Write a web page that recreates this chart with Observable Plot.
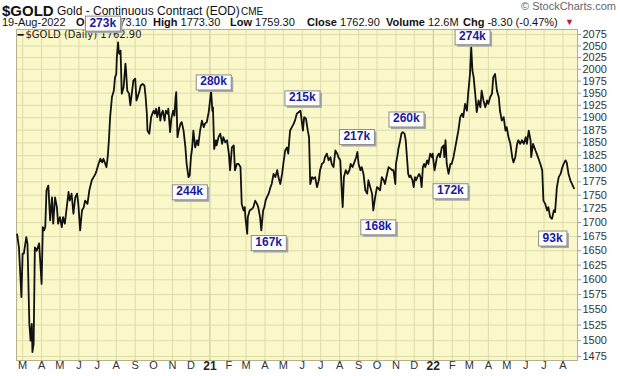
<!DOCTYPE html>
<html>
<head>
<meta charset="utf-8">
<script src="https://cdn.jsdelivr.net/npm/d3@7"></script>
<script src="https://cdn.jsdelivr.net/npm/@observablehq/plot@0.6"></script>
<style>
body{margin:0;background:#fff;}
#wrap{position:relative;width:620px;height:376px;overflow:hidden;font-family:"Liberation Sans",Arial,sans-serif;color:#111;}
#head{position:absolute;left:0;top:0;width:620px;height:29px;}
#head span{position:absolute;white-space:nowrap;}
#head b{font-size:11px;}
#chart{position:absolute;left:0;top:29px;}
</style>
</head>
<body>
<div id="wrap">
  <div id="head">
    <span style="left:2px;top:2px;font-weight:bold;font-size:15px;">$GOLD</span>
    <span style="left:57px;top:4px;font-size:12px;">Gold - Continuous Contract (EOD)</span>
    <span style="left:241px;top:6px;font-size:10px;">CME</span>
    <span style="left:521px;top:0px;font-size:11px;color:#666;">© StockCharts.com</span>
    <span style="left:2px;top:16px;font-size:11px;">19-Aug-2022</span>
    <span style="left:76px;top:16px;font-size:11px;"><b>Open</b> 1773.10</span>
    <span style="left:153px;top:16px;font-size:11px;"><b>High</b> 1773.30</span>
    <span style="left:230px;top:16px;font-size:11px;"><b>Low</b> 1759.30</span>
    <span style="left:307px;top:16px;font-size:11px;"><b>Close</b> 1762.90</span>
    <span style="left:386px;top:16px;font-size:11px;"><b>Volume</b> 12.6M</span>
    <span style="left:463px;top:16px;font-size:11px;"><b>Chg</b> -8.30 (-0.47%)</span>
    <span style="left:565px;top:17px;font-size:9px;color:#c0143c;">▼</span>
  </div>
  <div id="chart"></div>
</div>
<script>
// ---- data (daily closes) ----
const dates20 = ["02-21","02-24","02-28","03-01","03-03","03-07","03-09","03-12","03-14","03-16","03-17","03-19","03-21","03-24","03-28",
"04-01","04-03","04-05","04-07","04-09","04-12","04-15","04-18","04-20","04-23","04-26","04-28",
"05-01","05-04","05-06","05-09","05-15","05-17","05-20","05-23","05-26","05-29","05-31",
"06-03","06-06","06-09","06-11","06-15","06-18","06-22","06-25","06-28","06-30",
"07-03","07-06","07-09","07-11","07-16","07-18","07-20","07-22","07-25","07-28","07-30",
"08-01","08-02","08-04","08-05","08-06","08-08","08-10","08-13","08-16","08-17","08-19","08-22","08-24","08-27","08-29",
"09-01","09-03","09-05","09-08","09-10","09-13","09-16","09-18","09-20","09-21","09-24","09-27","09-29",
"10-01","10-03","10-05","10-07","10-10","10-12","10-14","10-16","10-19","10-21","10-24","10-25","10-28","10-30",
"11-02","11-04","11-06","11-07","11-09","11-11","11-14","11-16","11-19","11-22","11-24","11-27","11-29",
"12-01","12-03","12-05","12-08","12-11","12-13","12-16","12-19","12-22","12-24","12-27","12-30","12-31"];
const closes20 = [1679,1656,1571,1645,1645,1674,1662,1527,1500,1527,1482,1495,1656,1650,1663,
1593,1692,1686,1692,1759,1768,1704,1746,1698,1746,1728,1698,
1710,1692,1710,1698,1756,1740,1753,1716,1746,1753,1734,
1686,1722,1728,1740,1734,1759,1778,1784,1790,1797,
1809,1819,1812,1819,1803,1822,1855,1901,1942,1955,1983,
1990,2026,2058,2040,2033,2040,1949,1962,2012,1997,1955,1949,1925,1955,1976,
1980,1935,1942,1955,1966,1969,1966,1942,1908,1874,1868,1901,1908,
1914,1908,1918,1901,1921,1894,1908,1914,1894,1914,1908,1918,1871,1898,
1914,1904,1942,1952,1861,1874,1888,1891,1874,1841,1809,1784,1787,
1822,1839,1874,1841,1855,1845,1874,1894,1881,1888,1891,1911,1921];

const dates21 = ["01-03","01-05","01-06","01-08","01-11","01-12","01-15","01-18","01-21","01-23","01-26","01-29",
"02-01","02-03","02-06","02-09","02-11","02-14","02-17","02-20","02-22","02-25","02-27","02-28",
"03-03","03-04","03-07","03-11","03-13","03-16","03-19","03-21","03-24","03-26","03-29","03-31",
"04-02","04-04","04-07","04-10","04-12","04-15","04-18","04-21","04-23","04-26","04-29",
"05-01","05-04","05-07","05-09","05-12","05-15","05-18","05-20","05-23","05-26","05-29","05-31",
"06-02","06-04","06-07","06-10","06-12","06-14","06-17","06-19","06-22","06-25","06-28","06-30",
"07-03","07-06","07-08","07-11","07-14","07-17","07-19","07-22","07-25","07-28","07-30",
"08-02","08-05","08-06","08-08","08-11","08-14","08-17","08-19","08-22","08-25","08-28","08-30",
"09-01","09-04","09-06","09-09","09-12","09-15","09-17","09-20","09-23","09-25","09-28",
"10-01","10-04","10-06","10-09","10-12","10-14","10-17","10-20","10-23","10-26","10-28","10-31",
"11-01","11-04","11-05","11-08","11-10","11-12","11-15","11-17","11-19","11-21","11-23","11-25","11-28","11-30",
"12-02","12-04","12-06","12-09","12-11","12-13","12-15","12-17","12-19","12-22","12-24","12-27","12-30","12-31"];
const closes21 = [1955,1914,1921,1838,1855,1845,1861,1868,1848,1861,1851,1855,
1829,1797,1841,1845,1797,1809,1809,1803,1734,1722,1728,1710,
1680,1710,1722,1725,1728,1740,1734,1728,1710,1686,1722,1728,
1740,1746,1753,1765,1771,1790,1784,1797,1784,1771,1790,
1809,1835,1841,1829,1874,1881,1888,1894,1908,1911,1914,1894,
1874,1901,1898,1874,1861,1771,1784,1781,1784,1765,1778,1797,
1809,1812,1822,1829,1816,1822,1809,1803,1835,1829,1822,
1816,1746,1728,1784,1797,1790,1797,1809,1803,1812,1822,1832,
1809,1797,1803,1790,1759,1753,1778,1765,1753,1722,1746,
1765,1762,1759,1784,1778,1771,1787,1803,1800,1797,1797,1771,
1809,1829,1838,1855,1868,1871,1868,1855,1822,1790,1784,1787,1778,1765,
1784,1778,1784,1790,1784,1765,1803,1809,1803,1816,1809,1829,1822,1829];

const dates22 = ["01-03","01-05","01-07","01-10","01-12","01-15","01-18","01-19","01-21","01-23","01-26","01-29","01-31",
"02-03","02-06","02-09","02-11","02-14","02-17","02-19","02-22","02-25","02-27","02-28",
"03-02","03-04","03-06","03-08","03-11","03-13","03-16","03-19","03-21","03-24","03-27","03-30",
"04-01","04-04","04-07","04-09","04-12","04-15","04-18","04-20","04-23","04-26","04-29",
"05-01","05-04","05-07","05-10","05-12","05-15","05-18","05-20","05-23","05-26","05-29",
"06-01","06-03","06-06","06-09","06-10","06-13","06-17","06-19","06-22","06-25","06-28","06-30",
"07-03","07-06","07-08","07-11","07-14","07-17","07-19","07-22","07-25","07-28","07-31",
"08-02","08-05","08-07","08-10","08-13","08-19"];
const closes22 = [1797,1809,1822,1829,1822,1841,1845,1822,1855,1809,1790,1809,1809,
1822,1841,1861,1874,1901,1908,1901,1928,1914,1949,1962,
1990,2047,1997,1983,1942,1911,1935,1921,1955,1935,1921,1935,
1928,1942,1949,1983,1990,1955,1942,1914,1894,1901,1874,
1881,1861,1848,1822,1812,1822,1848,1855,1848,1855,1848,
1861,1848,1874,1855,1822,1848,1835,1829,1819,1809,1797,1740,
1734,1722,1728,1710,1707,1722,1719,1765,1784,1790,1803,
1809,1816,1812,1790,1778,1763];

// volume annotations (label, date, price level of the label)
const volLabels = ["273k","244k","280k","167k","215k","217k","168k","260k","172k","274k","93k"];
const volDates  = ["2020-07-10","2020-11-29","2021-01-07","2021-04-07","2021-06-01","2021-08-29","2021-10-03","2021-11-18","2022-01-29","2022-03-06","2022-07-15"];
const volPrices = [2101,1757,1974,1665,1941,1863,1693,1898,1759,2071,1673];

// axis ticks
const priceTicks = [1475,1500,1525,1550,1575,1600,1625,1650,1675,1700,1725,1750,1775,1800,1825,1850,1875,1900,1925,1950,1975,2000,2025,2050,2075];
const monthLetters = ["J","F","M","A","M","J","J","A","S","O","N","D"];
const xStart = "2020-02-20", xEnd = "2022-08-24T16:00Z";

// ---- build ----
const series = [
  ...dates20.map((d,i)=>({date:new Date("2020-"+d), close:closes20[i]})),
  ...dates21.map((d,i)=>({date:new Date("2021-"+d), close:closes21[i]})),
  ...dates22.map((d,i)=>({date:new Date("2022-"+d), close:closes22[i]}))
];
const annots = volLabels.map((l,i)=>({label:l, date:new Date(volDates[i]), price:volPrices[i]}));
const months = d3.utcMonth.range(new Date("2020-03-01"), new Date("2022-08-02"));
const monthTicks = months.filter(d=>d.getUTCMonth()!==0);
const yearTicks = months.filter(d=>d.getUTCMonth()===0);

const chart = Plot.plot({
  width: 620, height: 347,
  marginTop: 0, marginBottom: 16, marginLeft: 16, marginRight: 43,
  style: {background:"transparent", overflow:"visible", fontFamily:"'Liberation Sans', Arial, sans-serif", fontSize:"11px"},
  x: {type:"utc", domain:[new Date(xStart), new Date(xEnd)]},
  y: {type:"log", domain:[1468.8, 2086.1]},
  marks: [
    Plot.frame({fill:"#faf8c9", stroke:null}),
    Plot.gridX(monthTicks, {stroke:"#dcdba9", strokeOpacity:1}),
    Plot.gridX(yearTicks, {stroke:"#bfc597", strokeOpacity:1}),
    Plot.gridY(priceTicks, {stroke:"#dcdba9", strokeOpacity:1}),
    Plot.frame({stroke:"#b4b28e"}),
    Plot.axisY(priceTicks, {anchor:"right", tickSize:3, tickPadding:2, label:null, stroke:"#999", fill:"#333", fontSize:11, tickFormat:d=>String(d)}),
    Plot.axisX(monthTicks, {anchor:"bottom", tickSize:0, tickPadding:1, label:null, fill:"#333", fontSize:11, tickFormat:d=>monthLetters[d.getUTCMonth()]}),
    Plot.axisX(yearTicks, {anchor:"bottom", tickSize:0, tickPadding:1, label:null, fill:"#222", fontSize:12, fontWeight:"bold", tickFormat:d=>String(d.getUTCFullYear()).slice(2)}),
    Plot.text(["━"], {frameAnchor:"top-left", dx:1, dy:5, textAnchor:"start", lineAnchor:"middle", fill:"#111", fontSize:10, fontWeight:"bold", fontFamily:"DejaVu Sans"}),
    Plot.text(["$GOLD (Daily) 1762.90"], {frameAnchor:"top-left", dx:9, dy:5, textAnchor:"start", lineAnchor:"middle", fill:"#222", fontSize:10, fontFamily:"DejaVu Sans"}),
    Plot.lineY(series, {x:"date", y:"close", stroke:"#111", strokeWidth:1.8}),
    Plot.text(annots, {x:"date", y:"price", text:"label", fill:"#1b1b9e", fontWeight:"bold", fontSize:12})
  ]
});
document.getElementById("chart").append(chart);

// boxes behind the volume labels
const ns = "http://www.w3.org/2000/svg";
const labelSet = new Set(volLabels);
Array.from(chart.querySelectorAll("text")).filter(t => labelSet.has(t.textContent)).forEach(t => {
  const bb = t.getBBox();
  const g = t.parentNode;
  const tf = t.getAttribute("transform");
  const mk = (dx, dy, fill, stroke) => {
    const r = document.createElementNS(ns, "rect");
    r.setAttribute("x", bb.x - 4 + dx);
    r.setAttribute("y", bb.y + 0.5 + dy);
    r.setAttribute("width", bb.width + 8);
    r.setAttribute("height", bb.height + 1);
    r.setAttribute("fill", fill);
    r.setAttribute("stroke", stroke);
    if (tf) r.setAttribute("transform", tf);
    g.insertBefore(r, t);
  };
  mk(2, 2, "#a8a8a8", "none");
  mk(0, 0, "#ffffff", "#8c8c8c");
});
</script>
</body>
</html>
